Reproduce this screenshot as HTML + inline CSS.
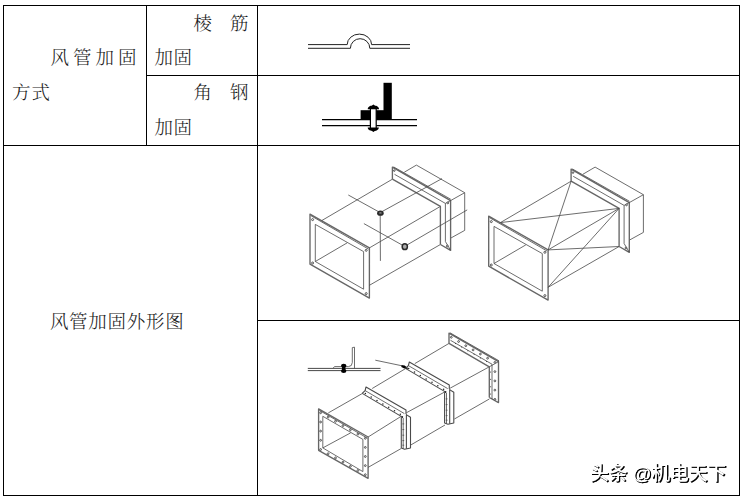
<!DOCTYPE html>
<html lang="zh-CN"><head><meta charset="utf-8"><title>风管加固方式</title>
<style>
html,body{margin:0;padding:0;background:#fff;}
body{width:743px;height:498px;position:relative;overflow:hidden;font-family:"Liberation Serif","Noto Serif CJK SC",serif;color:#1a1a1a;}
.ln{position:absolute;background:#000;}
.tx{position:absolute;white-space:nowrap;font-size:18.5px;line-height:20px;font-weight:300;}
.wm{position:absolute;left:589.8px;top:460.6px;font-family:"Liberation Sans","Noto Sans CJK SC",sans-serif;font-size:18.8px;line-height:26px;color:#fff;font-weight:500;text-shadow:1px 1px 0 #000,1.3px 1.3px .6px #222;white-space:nowrap;letter-spacing:-.12px;will-change:transform;}
svg{position:absolute;left:0;top:0;}
svg .t{fill:none;stroke:#474747;stroke-width:.8;}
svg .f{fill:none;stroke:#666;stroke-width:1.35;stroke-linejoin:round;}
svg .g{fill:none;stroke:#4a4a4a;stroke-width:1.1;stroke-linejoin:round;}
svg .m{fill:none;stroke:#222;stroke-width:1;}
svg .k{fill:none;stroke:#000;stroke-width:1.2;}
svg .h{fill:#fff;stroke:#3a3a3a;stroke-width:.85;}
svg .d{fill:#222;stroke:none;}
</style></head><body>
<!-- table borders -->
<div class="ln" style="left:3px;top:5px;width:737px;height:1px"></div>
<div class="ln" style="left:3px;top:495px;width:737px;height:1px"></div>
<div class="ln" style="left:3px;top:5px;width:1px;height:491px"></div>
<div class="ln" style="left:739px;top:5px;width:1px;height:491px"></div>
<div class="ln" style="left:146px;top:5px;width:1px;height:141px"></div>
<div class="ln" style="left:257px;top:5px;width:1px;height:491px"></div>
<div class="ln" style="left:146px;top:75px;width:594px;height:1px"></div>
<div class="ln" style="left:3px;top:145px;width:737px;height:1px"></div>
<div class="ln" style="left:257px;top:320px;width:483px;height:1px"></div>
<!-- text -->
<div class="tx" id="a1" style="left:50.6px;top:48px;letter-spacing:3.97px">风管加固</div>
<div class="tx" id="a2" style="left:12px;top:83px;letter-spacing:.9px">方式</div>
<div class="tx" id="b1" style="left:193.5px;top:13.5px;letter-spacing:18.1px">棱筋</div>
<div class="tx" id="b2" style="left:154.4px;top:48px;letter-spacing:.6px">加固</div>
<div class="tx" id="c1" style="left:193.5px;top:83px;letter-spacing:18.1px">角钢</div>
<div class="tx" id="c2" style="left:154.4px;top:118px;letter-spacing:.6px">加固</div>
<div class="tx" id="d1" style="left:49.9px;top:311.8px;letter-spacing:.72px">风管加固外形图</div>
<div class="wm">头条 @机电天下</div>
<svg width="743" height="498" viewBox="0 0 743 498">
<path class="m" d="M308 44.6 H347.2 A12.2 10.5 0 0 1 371.6 44.6 H410"/>
<path class="m" d="M308 48.3 H350.4 A9.7 9.6 0 0 1 369.8 48.3 H410"/>
<path class="k" d="M322 119.6 H417 M322 125.7 H417"/>
<rect fill="#000" x="383.5" y="82.8" width="8.3" height="36.8"/>
<rect fill="#000" x="360.6" y="110.2" width="24" height="9.4"/>
<rect x="370.4" y="107.5" width="5.8" height="21.5" fill="#fff" stroke="#000" stroke-width="1.2"/>
<path fill="#000" d="M367.7 109.3 C367.9 106.6 370.4 105.9 372 105.6 L373.4 104.6 L374.8 105.6 C376.4 105.9 378.9 106.6 379.1 109.3 Z"/>
<path fill="#000" d="M367.7 127.6 C367.9 130.2 370.4 130.8 372 131.1 L373.4 132 L374.8 131.1 C376.4 130.8 378.7 130.2 378.9 127.6 Z"/>
<path class="f" d="M310.0 214.1 L369.4 247.9 L369.4 298.1 L310.0 264.2 Z"/>
<path class="t" d="M310.9 215.7 L368.5 249.1"/>
<path class="t" d="M315.3 224.4 L363.6 251.6 L363.6 289.2 L315.3 261.5 Z"/>
<circle class="h" cx="312.6" cy="219.6" r="1.0"/>
<circle class="h" cx="366.2" cy="250.3" r="1.0"/>
<circle class="h" cx="312.6" cy="263.0" r="1.0"/>
<circle class="h" cx="366.2" cy="293.6" r="1.0"/>
<line class="t" x1="315.3" y1="261.5" x2="347.1" y2="242.9"/>
<line class="t" x1="321.7" y1="220.6" x2="392.4" y2="179.2"/>
<line class="t" x1="369.4" y1="247.9" x2="440.4" y2="206.4"/>
<line class="t" x1="369.4" y1="285.3" x2="440.4" y2="244.5"/>
<path class="f" d="M392.4 179.2 L392.4 167.1 L450.6 200.6 L450.6 250.3 L440.4 244.5"/>
<path class="t" d="M393.6 166.9 L450.8 199.3"/>
<path class="f" d="M392.4 179.2 L440.4 206.4 L440.4 244.5"/>
<path class="t" d="M394.5 174.3 L445.4 203.4 L445.4 241.5 L450.6 250.3"/>
<line class="t" x1="445.4" y1="203.4" x2="450.6" y2="200.6"/>
<circle class="h" cx="394.3" cy="170.6" r="0.8"/>
<circle class="h" cx="447.8" cy="202.9" r="0.9"/>
<circle class="h" cx="447.3" cy="246.0" r="0.9"/>
<path class="t" d="M404.3 172.2 L416.4 165.1 L464.7 192.7 L464.7 230.4 L451.1 237.9"/>
<line class="t" x1="450.6" y1="200.6" x2="464.7" y2="192.7"/>
<line class="t" x1="348.3" y1="195.0" x2="380.2" y2="212.6"/>
<line class="t" x1="380.2" y1="212.6" x2="442.0" y2="178.6"/>
<line class="t" x1="380.2" y1="212.6" x2="380.4" y2="260.9"/>
<line class="t" x1="363.9" y1="223.6" x2="404.6" y2="246.4"/>
<line class="t" x1="404.6" y1="246.4" x2="467.2" y2="209.9"/>
<ellipse cx="380.4" cy="213.2" rx="3.3" ry="2.6" fill="#2a2a2a"/><ellipse cx="380.4" cy="212.9" rx="1.4" ry=".6" fill="#999"/>
<ellipse cx="404.8" cy="246.7" rx="2.6" ry="2.9" fill="#aaa" stroke="#2a2a2a" stroke-width="1.5"/>
<path class="f" d="M488.7 216.1 L548.1 249.9 L548.1 300.1 L488.7 266.2 Z"/>
<path class="t" d="M489.6 217.7 L547.2 251.1"/>
<path class="t" d="M494.0 226.4 L542.3 253.6 L542.3 291.2 L494.0 263.5 Z"/>
<circle class="h" cx="491.3" cy="221.6" r="1.0"/>
<circle class="h" cx="544.9" cy="252.3" r="1.0"/>
<circle class="h" cx="491.3" cy="265.0" r="1.0"/>
<circle class="h" cx="544.9" cy="295.6" r="1.0"/>
<line class="t" x1="494.0" y1="263.5" x2="525.8" y2="244.9"/>
<line class="t" x1="500.4" y1="222.6" x2="571.1" y2="181.2"/>
<line class="t" x1="548.1" y1="249.9" x2="619.1" y2="208.4"/>
<line class="t" x1="548.1" y1="287.3" x2="619.1" y2="246.5"/>
<path class="f" d="M571.1 181.2 L571.1 169.1 L629.3 202.6 L629.3 252.3 L619.1 246.5"/>
<path class="t" d="M572.3 168.9 L629.5 201.3"/>
<path class="f" d="M571.1 181.2 L619.1 208.4 L619.1 246.5"/>
<path class="t" d="M573.2 176.3 L624.1 205.4 L624.1 243.5 L629.3 252.3"/>
<line class="t" x1="624.1" y1="205.4" x2="629.3" y2="202.6"/>
<circle class="h" cx="573.0" cy="172.6" r="0.8"/>
<circle class="h" cx="626.5" cy="204.9" r="0.9"/>
<circle class="h" cx="626.0" cy="248.0" r="0.9"/>
<path class="t" d="M583.0 174.2 L595.1 167.1 L643.4 194.7 L643.4 232.4 L629.8 239.9"/>
<line class="t" x1="629.3" y1="202.6" x2="643.4" y2="194.7"/>
<line class="t" x1="500.4" y1="222.6" x2="619.1" y2="208.4"/>
<line class="t" x1="548.1" y1="249.9" x2="571.1" y2="181.2"/>
<line class="t" x1="548.1" y1="249.9" x2="619.1" y2="246.5"/>
<line class="t" x1="548.1" y1="287.3" x2="619.1" y2="208.4"/>
<path class="t" style="stroke:#333;stroke-width:.9" d="M307.8 368.4 H380.5 M307.8 370.6 H380.5"/>
<path class="t" d="M354.5 368.4 V347.2 L352.3 347.6 V362.5 Q352.2 366.4 348.5 366.6 H334.5 L333 368.3"/>
<ellipse cx="343.7" cy="365.7" rx="2.7" ry="1.9" fill="#000"/><ellipse cx="343.7" cy="371" rx="2.7" ry="1.9" fill="#000"/><rect x="342" y="365" width="3.4" height="6.5" fill="#000"/>
<line class="t" x1="375.3" y1="360.2" x2="401.5" y2="365.7"/>
<path fill="#000" d="M401.3 364.9 L404.6 365.4 L408 368 L407.2 369.3 L403.8 368.3 L401.4 367 Z"/>
<path class="f" d="M318.6 408.9 L368.1 437.0 L368.1 478.3 L318.6 450.3 Z"/>
<path class="t" d="M322.8 416.3 L362.9 439.4 L362.9 471.6 L322.8 447.9 Z"/>
<path class="t" d="M319.4 410.4 L367.3 438.1"/>
<circle class="h" cx="320.6" cy="412.8" r="0.9"/>
<circle class="h" cx="328.1" cy="417.1" r="0.9"/>
<circle class="h" cx="335.5" cy="421.3" r="0.9"/>
<circle class="h" cx="343.0" cy="425.6" r="0.9"/>
<circle class="h" cx="350.4" cy="429.8" r="0.9"/>
<circle class="h" cx="357.9" cy="434.1" r="0.9"/>
<circle class="h" cx="365.3" cy="438.3" r="0.9"/>
<circle class="h" cx="320.6" cy="422.0" r="0.9"/>
<circle class="h" cx="320.6" cy="431.1" r="0.9"/>
<circle class="h" cx="320.6" cy="440.3" r="0.9"/>
<circle class="h" cx="365.3" cy="447.4" r="0.9"/>
<circle class="h" cx="365.3" cy="456.5" r="0.9"/>
<circle class="h" cx="365.3" cy="465.6" r="0.9"/>
<circle class="h" cx="320.6" cy="449.5" r="0.9"/>
<circle class="h" cx="328.1" cy="453.7" r="0.9"/>
<circle class="h" cx="335.5" cy="457.9" r="0.9"/>
<circle class="h" cx="343.0" cy="462.1" r="0.9"/>
<circle class="h" cx="350.4" cy="466.3" r="0.9"/>
<circle class="h" cx="357.9" cy="470.5" r="0.9"/>
<circle class="h" cx="365.3" cy="474.7" r="0.9"/>
<line class="t" x1="322.8" y1="447.9" x2="350.6" y2="432.9"/>
<line class="t" x1="328.3" y1="412.9" x2="362.3" y2="393.5"/>
<line class="t" x1="368.1" y1="437.0" x2="401.2" y2="416.3"/>
<line class="t" x1="368.1" y1="467.4" x2="401.2" y2="448.5"/>
<path class="g" d="M362.2 393.4 L365.1 390.6 L366.0 387.0 L406.0 410.1 L406.0 414.0"/>
<path class="t" d="M365.1 390.6 L404.4 413.6"/>
<path class="g" d="M362.2 393.4 L401.6 416.6"/>
<circle class="d" cx="365.4" cy="393.6" r="0.75"/>
<circle class="d" cx="371.2" cy="397.0" r="0.75"/>
<circle class="d" cx="377.0" cy="400.5" r="0.75"/>
<circle class="d" cx="382.9" cy="403.9" r="0.75"/>
<circle class="d" cx="388.7" cy="407.3" r="0.75"/>
<circle class="d" cx="394.5" cy="410.8" r="0.75"/>
<circle class="d" cx="400.3" cy="414.2" r="0.75"/>
<circle class="d" cx="402.2" cy="416.9" r="1.0"/>
<path class="g" d="M401.3 417.3 L401.3 448.0 L404.6 449.3 L410.5 448.0 L410.5 417.3 L406.2 414.6"/>
<line class="t" x1="403.2" y1="418.0" x2="403.2" y2="448.6"/>
<path class="g" d="M406.4 414.3 L406.4 448.8"/>
<line class="t" x1="402.4" y1="423.9" x2="404.2" y2="423.9"/>
<line class="t" x1="402.4" y1="429.6" x2="404.2" y2="429.6"/>
<line class="t" x1="402.4" y1="435.2" x2="404.2" y2="435.2"/>
<line class="t" x1="402.4" y1="440.6" x2="404.2" y2="440.6"/>
<line class="t" x1="402.4" y1="445.2" x2="404.2" y2="445.2"/>
<path class="g" d="M405.5 368.4 L408.4 365.6 L409.3 362.0 L449.3 385.1 L449.3 389.0"/>
<path class="t" d="M408.4 365.6 L447.7 388.6"/>
<path class="g" d="M405.5 368.4 L444.9 391.6"/>
<circle class="d" cx="408.7" cy="368.6" r="0.75"/>
<circle class="d" cx="414.5" cy="372.0" r="0.75"/>
<circle class="d" cx="420.3" cy="375.5" r="0.75"/>
<circle class="d" cx="426.1" cy="378.9" r="0.75"/>
<circle class="d" cx="432.0" cy="382.3" r="0.75"/>
<circle class="d" cx="437.8" cy="385.8" r="0.75"/>
<circle class="d" cx="443.6" cy="389.2" r="0.75"/>
<circle class="d" cx="445.5" cy="391.9" r="1.0"/>
<path class="g" d="M444.6 392.3 L444.6 423.0 L447.9 424.3 L453.8 423.0 L453.8 392.3 L449.5 389.6"/>
<line class="t" x1="446.5" y1="393.0" x2="446.5" y2="423.6"/>
<path class="g" d="M449.7 389.3 L449.7 423.8"/>
<line class="t" x1="445.7" y1="398.9" x2="447.5" y2="398.9"/>
<line class="t" x1="445.7" y1="404.6" x2="447.5" y2="404.6"/>
<line class="t" x1="445.7" y1="410.2" x2="447.5" y2="410.2"/>
<line class="t" x1="445.7" y1="415.6" x2="447.5" y2="415.6"/>
<line class="t" x1="445.7" y1="420.2" x2="447.5" y2="420.2"/>
<line class="t" x1="372.2" y1="388.5" x2="405.7" y2="368.5"/>
<line class="t" x1="406.3" y1="412.8" x2="445.0" y2="391.8"/>
<line class="t" x1="410.6" y1="445.1" x2="445.0" y2="425.0"/>
<line class="t" x1="414.8" y1="363.6" x2="449.0" y2="343.4"/>
<line class="t" x1="450.1" y1="388.2" x2="489.3" y2="366.8"/>
<line class="t" x1="454.4" y1="419.0" x2="489.3" y2="399.0"/>
<path class="f" d="M449.0 343.4 L449.0 333.2 L498.5 361.7 L498.5 402.6 L489.3 397.5"/>
<path class="t" d="M450.0 332.8 L499.0 360.8"/>
<path class="f" d="M449.0 343.4 L489.3 366.8 L489.3 397.5"/>
<path class="t" d="M450.5 340.3 L492.0 364.2 L492.0 399.0"/>
<line class="t" x1="489.3" y1="366.8" x2="498.5" y2="361.7"/>
<circle class="h" cx="451.3" cy="337.3" r="0.9"/>
<circle class="h" cx="458.6" cy="341.5" r="0.9"/>
<circle class="h" cx="465.8" cy="345.7" r="0.9"/>
<circle class="h" cx="473.1" cy="349.9" r="0.9"/>
<circle class="h" cx="480.4" cy="354.0" r="0.9"/>
<circle class="h" cx="487.6" cy="358.2" r="0.9"/>
<circle class="h" cx="494.9" cy="362.4" r="0.9"/>
<circle class="h" cx="494.9" cy="371.6" r="0.9"/>
<circle class="h" cx="494.9" cy="380.9" r="0.9"/>
<circle class="h" cx="494.9" cy="390.1" r="0.9"/>
<circle class="h" cx="494.9" cy="399.3" r="0.9"/>
<circle class="d" cx="455.5" cy="343.5" r="0.5"/>
<circle class="d" cx="461.7" cy="347.1" r="0.5"/>
<circle class="d" cx="467.9" cy="350.7" r="0.5"/>
<circle class="d" cx="474.1" cy="354.3" r="0.5"/>
<circle class="d" cx="480.3" cy="357.9" r="0.5"/>
<circle class="d" cx="486.5" cy="361.5" r="0.5"/>
<circle class="d" cx="490.6" cy="372.0" r="0.5"/>
<circle class="d" cx="490.6" cy="379.3" r="0.5"/>
<circle class="d" cx="490.6" cy="386.7" r="0.5"/>
<circle class="d" cx="490.6" cy="394.0" r="0.5"/>
</svg>
</body></html>
